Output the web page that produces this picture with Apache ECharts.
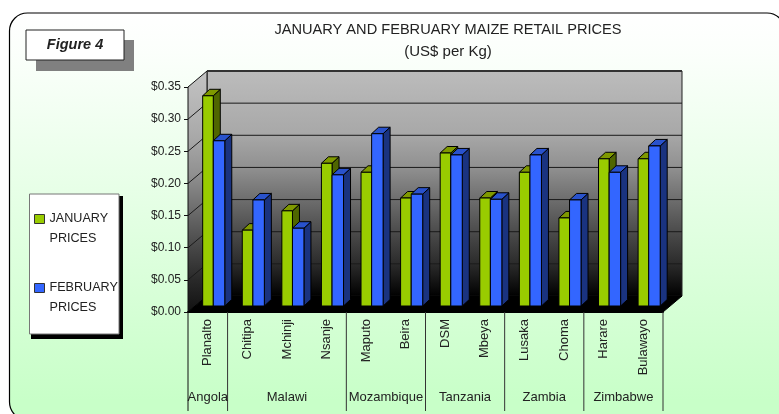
<!DOCTYPE html>
<html>
<head>
<meta charset="utf-8">
<style>
  html, body { margin: 0; padding: 0; background: #fff; }
  #chart { width: 779px; height: 414px; }
</style>
<script src="https://cdn.jsdelivr.net/npm/echarts@6/dist/echarts.min.js"></script>
</head>
<body>
<div id="chart"></div>
<script>
// 数据
const markets = ["Planalto", "Chitipa", "Mchinji", "Nsanje", "Maputo", "Beira", "DSM", "Mbeya", "Lusaka", "Choma", "Harare", "Bulawayo"];
const janPrices = [0.327, 0.118, 0.148, 0.222, 0.208, 0.168, 0.238, 0.168, 0.208, 0.137, 0.229, 0.229];
const febPrices = [0.257, 0.165, 0.121, 0.204, 0.268, 0.174, 0.235, 0.166, 0.235, 0.165, 0.208, 0.249];
const yTicks = [0.05, 0.1, 0.15, 0.2, 0.25, 0.3];
const countries = ["Angola", "Malawi", "Mozambique", "Tanzania", "Zambia", "Zimbabwe"];
const countrySpans = [1, 3, 2, 2, 2, 2];

const FONT = "'Liberation Sans', Arial, sans-serif";
// 3D 偏移
const WALL_DX = 19, WALL_DY = 16;
const BAR_DX = 5.5, BAR_DY = 6;
const SIDE_DX = 7, SIDE_DY = 6.5;

function poly(points, fill, stroke, width) {
  return {
    type: "polygon",
    shape: { points: points },
    style: { fill: fill, stroke: stroke || "#000", lineWidth: width === undefined ? 1 : width }
  };
}

function wallGradient(top, bottom) {
  return new echarts.graphic.LinearGradient(0, 0, 0, 1, [
    { offset: 0, color: top },
    { offset: 0.28, color: "#a8a8a8" },
    { offset: 0.43, color: "#909090" },
    { offset: 0.57, color: "#6e6e6e" },
    { offset: 0.72, color: "#4a4a4a" },
    { offset: 0.86, color: "#2a2a2a" },
    { offset: 1, color: bottom }
  ]);
}

// 背板、左墙、地板
function renderWalls(params, api) {
  const left = api.coord([0, 0])[0] - api.size([1, 0])[0] / 2;
  const right = api.coord([markets.length - 1, 0])[0] + api.size([1, 0])[0] / 2;
  const y0 = api.coord([0, 0])[1];
  const y1 = api.coord([0, 0.35])[1];
  return {
    type: "group",
    children: [
      poly([[left + WALL_DX, y1 - WALL_DY], [right + WALL_DX, y1 - WALL_DY], [right + WALL_DX, y0 - WALL_DY], [left + WALL_DX, y0 - WALL_DY]],
        wallGradient("#bcbcbc", "#000000"), "#222", 1),
      poly([[left, y1], [left + WALL_DX, y1 - WALL_DY], [left + WALL_DX, y0 - WALL_DY], [left, y0]],
        wallGradient("#c4c4c4", "#111111"), "#111", 1),
      poly([[left, y0], [left + WALL_DX, y0 - WALL_DY], [right + WALL_DX, y0 - WALL_DY], [right, y0]],
        "#000", "#000", 1),
      { type: "line", shape: { x1: left + WALL_DX, y1: y1 - WALL_DY, x2: right + WALL_DX, y2: y1 - WALL_DY }, style: { stroke: "#333", lineWidth: 2 } }
    ]
  };
}

// 网格线：左墙斜线 + 背板横线
function renderGrid(params, api) {
  const left = api.coord([0, 0])[0] - api.size([1, 0])[0] / 2;
  const right = api.coord([markets.length - 1, 0])[0] + api.size([1, 0])[0] / 2;
  const y = api.coord([0, api.value(1)])[1];
  return {
    type: "polyline",
    shape: { points: [[left, y], [left + WALL_DX, y - WALL_DY], [right + WALL_DX, y - WALL_DY]] },
    style: { fill: null, stroke: "#1a1a1a", lineWidth: 1 }
  };
}

function renderBar(seriesPos, front, top, side) {
  return function (params, api) {
    const c = api.coord([api.value(0), api.value(1)]);
    const base = api.coord([api.value(0), 0]);
    const w = api.size([1, 0])[0] * (seriesPos === 0 ? 0.268 : 0.29);
    const x = c[0] + BAR_DX + (seriesPos === 0 ? -w : 0);
    const yt = c[1] - BAR_DY;
    const yb = base[1] - BAR_DY;
    return {
      type: "group",
      children: [
        poly([[x + w, yt], [x + w + SIDE_DX, yt - SIDE_DY], [x + w + SIDE_DX, yb - SIDE_DY], [x + w, yb]], side),
        poly([[x, yt], [x + SIDE_DX, yt - SIDE_DY], [x + w + SIDE_DX, yt - SIDE_DY], [x + w, yt]], top),
        poly([[x, yt], [x + w, yt], [x + w, yb], [x, yb]], front)
      ]
    };
  };
}

// 国家分组：分隔线和名称
function renderCountry(params, api) {
  const start = api.value(0), span = api.value(1);
  const cw = api.size([1, 0])[0];
  const p = api.coord([start, 0]);
  const x0 = p[0] - cw / 2, x1 = x0 + span * cw;
  const children = [
    { type: "line", shape: { x1: x1, y1: p[1], x2: x1, y2: p[1] + 99 }, style: { stroke: "#333", lineWidth: 1 } },
    {
      type: "text",
      style: {
        x: (x0 + x1) / 2, y: p[1] + 85, text: countries[params.dataIndex], align: "center", verticalAlign: "middle",
        font: "13px " + FONT, fill: "#222"
      }
    }
  ];
  if (start === 0) {
    children.push({ type: "line", shape: { x1: x0, y1: p[1], x2: x0, y2: p[1] + 99 }, style: { stroke: "#111", lineWidth: 1 } });
  }
  return { type: "group", children: children };
}

let countryData = [];
let spanStart = 0;
countrySpans.forEach(function (s) {
  countryData.push([spanStart, s]);
  spanStart += s;
});

const chart = echarts.init(document.getElementById("chart"));
chart.setOption({
  animation: false,
  tooltip: { show: false },
  title: {
    text: "JANUARY AND FEBRUARY MAIZE RETAIL PRICES",
    subtext: "(US$ per Kg)",
    left: 443,
    top: 17,
    textAlign: "center",
    itemGap: 7,
    textStyle: { fontFamily: FONT, fontSize: 14.6, fontWeight: "normal", color: "#222" },
    subtextStyle: { fontFamily: FONT, fontSize: 15, color: "#222" }
  },
  legend: {
    orient: "vertical",
    left: 29,
    top: 184,
    icon: "rect",
    itemWidth: 10,
    itemHeight: 9,
    itemGap: 9,
    itemStyle: { borderColor: "#333", borderWidth: 1 },
    selectedMode: false,
    data: ["JANUARY PRICES", "FEBRUARY PRICES"],
    formatter: function (name) {
      return " \n" + name.replace(" ", "\n");
    },
    textStyle: { fontFamily: FONT, fontSize: 12.6, lineHeight: 20, color: "#222" }
  },
  grid: { left: 188, top: 87, width: 475, height: 225 },
  xAxis: {
    type: "category",
    data: markets,
    axisLine: { lineStyle: { color: "#000", width: 2 } },
    axisTick: { length: 61, lineStyle: { color: "#444" } },
    axisLabel: { rotate: 90, margin: 7, interval: 0, fontFamily: FONT, fontSize: 13, color: "#222" }
  },
  yAxis: {
    type: "value",
    min: 0,
    max: 0.35,
    interval: 0.05,
    axisLine: { show: true, lineStyle: { color: "#111" } },
    axisTick: { show: true, length: 4, lineStyle: { color: "#111" } },
    splitLine: { show: false },
    axisLabel: {
      margin: 7,
      fontFamily: FONT,
      fontSize: 12,
      color: "#222",
      formatter: function (v) { return "$" + v.toFixed(2); }
    }
  },
  graphic: [
    {
      type: "rect", z: -10,
      shape: { x: 9.5, y: 13, width: 775.5, height: 407, r: 18 },
      style: {
        stroke: "#000", lineWidth: 1.2,
        fill: new echarts.graphic.LinearGradient(0, 0, 0, 1, [
          { offset: 0, color: "#ffffff" },
          { offset: 0.1, color: "#fbfffb" },
          { offset: 0.45, color: "#e6ffe6" },
          { offset: 0.95, color: "#c8ffc8" },
          { offset: 1, color: "#c8ffc8" }
        ])
      }
    },
    { type: "rect", z: -9, shape: { x: 36, y: 40, width: 98, height: 31 }, style: { fill: "#808080" } },
    { type: "rect", z: -8, shape: { x: 26, y: 30, width: 98, height: 30 }, style: { fill: "#fff", stroke: "#222", lineWidth: 1 } },
    {
      type: "text", z: -7, x: 75, y: 45,
      style: { text: "Figure 4", align: "center", verticalAlign: "middle", font: "italic bold 14.5px 'Liberation Sans', Arial, sans-serif", fill: "#222" }
    },
    { type: "rect", z: -9, shape: { x: 31, y: 196, width: 92, height: 143 }, style: { fill: "#000" } },
    { type: "rect", z: -8, shape: { x: 29.5, y: 194, width: 89.5, height: 140 }, style: { fill: "#fff", stroke: "#777", lineWidth: 1 } }
  ],
  series: [
    {
      type: "custom", z: 1, silent: true, data: [[0, 0.35]], encode: { x: 0, y: 1 },
      renderItem: renderWalls
    },
    {
      type: "custom", z: 1, silent: true, data: yTicks.map(function (v) { return [0, v]; }), encode: { x: 0, y: 1 },
      renderItem: renderGrid
    },
    {
      name: "JANUARY PRICES", type: "custom", z: 2,
      itemStyle: { color: "#99cc00" },
      data: janPrices.map(function (v, i) { return [i, v]; }), encode: { x: 0, y: 1 },
      renderItem: renderBar(0, "#99cc00", "#7f9900", "#4f6600")
    },
    {
      name: "FEBRUARY PRICES", type: "custom", z: 2,
      itemStyle: { color: "#3366ff" },
      data: febPrices.map(function (v, i) { return [i, v]; }), encode: { x: 0, y: 1 },
      renderItem: renderBar(1, "#3366ff", "#2952cc", "#1a3380")
    },
    {
      type: "custom", z: 3, silent: true, data: countryData, encode: { x: 0 },
      renderItem: renderCountry
    }
  ]
});
</script>
</body>
</html>
